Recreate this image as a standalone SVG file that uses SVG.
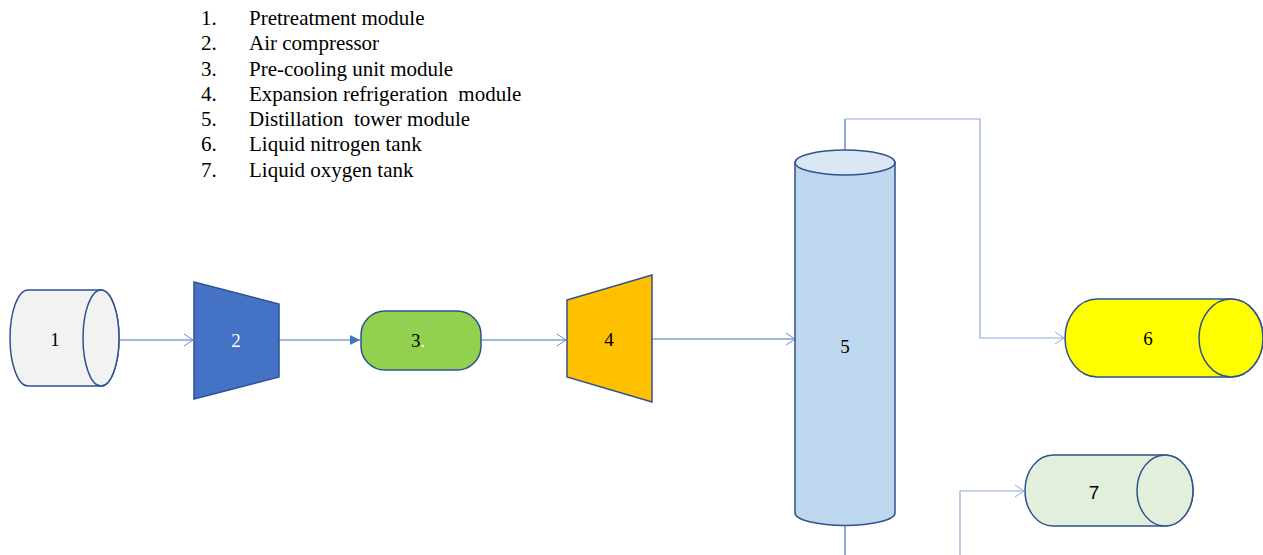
<svg xmlns="http://www.w3.org/2000/svg" width="1263" height="555" viewBox="0 0 1263 555">
<defs>
<marker id="open" markerWidth="12" markerHeight="14" refX="10" refY="7" orient="auto" markerUnits="userSpaceOnUse">
<path d="M1,1 L10,7 L1,13" fill="none" stroke="#6A8BD0" stroke-width="1"/>
</marker>
<marker id="openL" markerWidth="12" markerHeight="14" refX="10" refY="7" orient="auto" markerUnits="userSpaceOnUse">
<path d="M1,1 L10,7 L1,13" fill="none" stroke="#8EA9DB" stroke-width="1"/>
</marker>
<marker id="solid" markerWidth="12" markerHeight="12" refX="10" refY="6" orient="auto" markerUnits="userSpaceOnUse">
<path d="M0,1 L10,6 L0,11 Z" fill="#4472C4"/>
</marker>
</defs>
<style>
.shape{stroke:#2F528F;stroke-width:1.5}
.lbl{font-family:"Liberation Serif","Times New Roman",serif;font-size:19px;text-anchor:middle;dominant-baseline:central;fill:#000}
.leg{font-family:"Liberation Serif","Times New Roman",serif;font-size:21px;fill:#000}
.conn{fill:none;stroke:#4472C4;stroke-width:1.2}
.connL{fill:none;stroke:#8EA9DB;stroke-width:1.2}
</style>
<rect width="1263" height="555" fill="#fff"/>

<g id="legend">
<text class="leg" x="201" y="25">1.</text><text class="leg" x="249" y="25">Pretreatment module</text>
<text class="leg" x="201" y="50">2.</text><text class="leg" x="249" y="50">Air compressor</text>
<text class="leg" x="201" y="76">3.</text><text class="leg" x="249" y="76">Pre-cooling unit module</text>
<text class="leg" x="201" y="101">4.</text><text class="leg" x="249" y="101" xml:space="preserve">Expansion refrigeration  module</text>
<text class="leg" x="201" y="126">5.</text><text class="leg" x="249" y="126" xml:space="preserve">Distillation  tower module</text>
<text class="leg" x="201" y="151">6.</text><text class="leg" x="249" y="151">Liquid nitrogen tank</text>
<text class="leg" x="201" y="177">7.</text><text class="leg" x="249" y="177">Liquid oxygen tank</text>
</g>

<g id="connectors">
<line class="conn" x1="119" y1="340" x2="193" y2="340" marker-end="url(#open)"/>
<line class="conn" x1="279" y1="340" x2="360" y2="340" marker-end="url(#solid)"/>
<line class="conn" x1="481" y1="340" x2="566" y2="340" marker-end="url(#open)"/>
<line class="conn" x1="652" y1="339" x2="795" y2="339" marker-end="url(#open)"/>
<path class="conn" d="M845,150 V119"/>
<path class="connL" d="M845,119 H980 V338 H1064" marker-end="url(#openL)"/>
<path class="conn" d="M845,526 V555"/>
<path class="connL" d="M960,555 V491 H1024" marker-end="url(#openL)"/>
</g>

<g id="node1">
<path class="shape" fill="#F2F2F2" d="M28,290 H101 A18,48 0 0 1 101,386 H28 A18,48 0 0 1 28,290 Z"/>
<ellipse class="shape" fill="#F2F2F2" cx="101" cy="338" rx="18" ry="48"/>
<text class="lbl" x="55" y="339">1</text>
</g>

<g id="node2">
<polygon class="shape" fill="#4472C4" points="194,282 279,304 279,377 194,399"/>
<text class="lbl" x="236" y="340" style="fill:#fff">2</text>
</g>

<g id="node3">
<rect class="shape" fill="#92D050" x="361" y="311" width="120" height="59" rx="24" ry="24"/>
<text class="lbl" x="418" y="340">3<tspan style="fill:#fff">.</tspan></text>
</g>

<g id="node4">
<polygon class="shape" fill="#FFC000" points="567,300 652,275 652,402 567,377"/>
<text class="lbl" x="609" y="339">4</text>
</g>

<g id="node5">
<path class="shape" fill="#BDD7EE" d="M795,162.5 V513 A50,12.5 0 0 0 895,513 V162.5 Z"/>
<ellipse class="shape" fill="#DAE8F5" cx="845" cy="162.5" rx="50" ry="12.5"/>
<text class="lbl" x="845" y="346">5</text>
</g>

<g id="node6">
<path class="shape" fill="#FFFF00" d="M1097,299 H1231 A32,39 0 0 1 1231,377 H1097 A32,39 0 0 1 1097,299 Z"/>
<ellipse class="shape" fill="#FFFF00" cx="1231" cy="338" rx="32" ry="39"/>
<text class="lbl" x="1148" y="338">6</text>
</g>

<g id="node7">
<path class="shape" fill="#E2EFDA" d="M1053,455 H1165 A28,35.5 0 0 1 1165,526 H1053 A28,35.5 0 0 1 1053,455 Z"/>
<ellipse class="shape" fill="#E2EFDA" cx="1165" cy="490.5" rx="28" ry="35.5"/>
<text class="lbl" x="1094" y="492" style="font-family:'Liberation Sans',Arial,sans-serif">7</text>
</g>
</svg>
